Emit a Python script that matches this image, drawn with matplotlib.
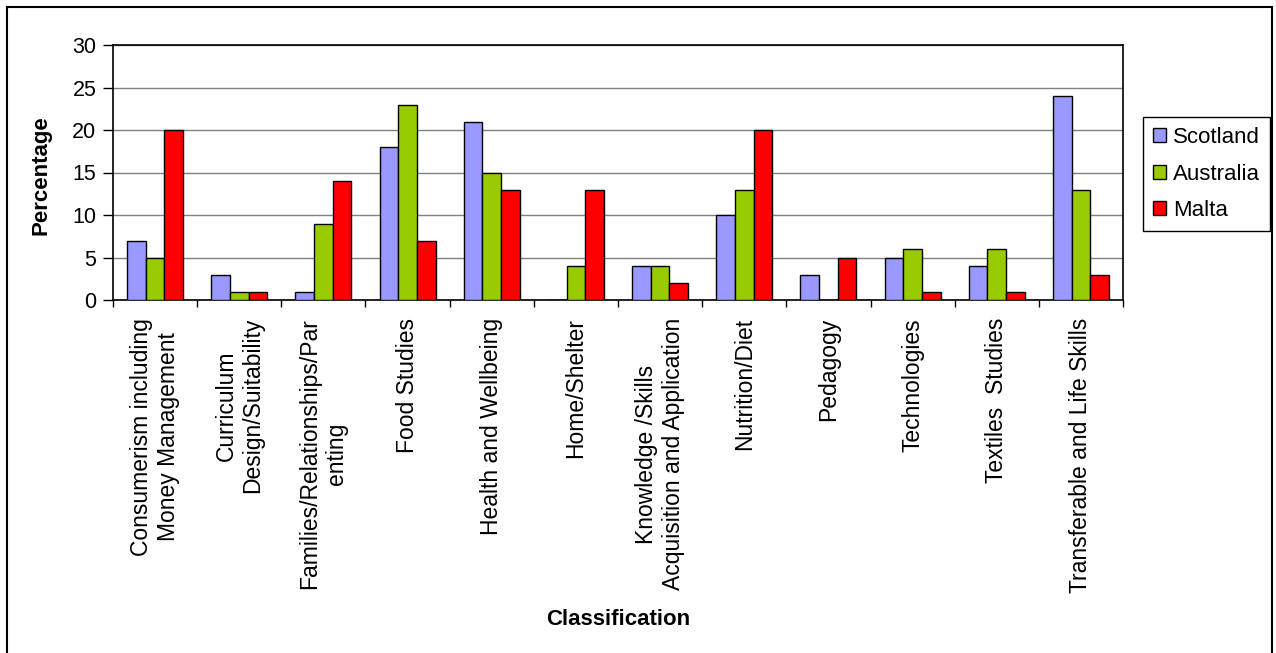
import numpy as np
import matplotlib
matplotlib.use("Agg")
from matplotlib import pyplot as plt
from matplotlib.patches import Rectangle

plt.rcParams['font.family'] = ['Liberation Sans', 'DejaVu Sans']

categories = [
    "Consumerism including\nMoney Management",
    "Curriculum\nDesign/Suitability",
    "Families/Relationships/Par\nenting",
    "Food Studies",
    "Health and Wellbeing",
    "Home/Shelter",
    "Knowledge /Skills\nAcquisition and Application",
    "Nutrition/Diet",
    "Pedagogy",
    "Technologies",
    "Textiles  Studies",
    "Transferable and Life Skills",
]
scotland = [7, 3, 1, 18, 21, 0, 4, 10, 3, 5, 4, 24]
australia = [5, 1, 9, 23, 15, 4, 4, 13, 0, 6, 6, 13]
malta = [20, 1, 14, 7, 13, 13, 2, 20, 5, 1, 1, 3]
series_names = ["Scotland", "Australia", "Malta"]
colors = ["#9999FF", "#99CC00", "#FF0000"]

fig = plt.figure(figsize=(12.76, 6.53), dpi=100)
ax = fig.add_axes([113 / 1276, 1 - 300 / 653, 1010 / 1276, 255 / 653])

x = np.arange(len(categories))
w = 1 / 4.5
for i, (vals, name, c) in enumerate(zip([scotland, australia, malta], series_names, colors)):
    ax.bar(x + (i - 1) * w, vals, w, color=c, edgecolor="black", linewidth=1.0,
           label=name, zorder=3)

ax.set_xlim(-0.5, len(categories) - 0.5)
ax.set_ylim(0, 30)
ax.set_yticks(range(0, 31, 5))
ax.yaxis.grid(True, color="#808080", linewidth=1.0, zorder=0)
ax.set_axisbelow(True)

# ticks between categories, labels at centres
ax.set_xticks(np.arange(len(categories) + 1) - 0.5)
ax.set_xticklabels([])
ax.set_xticks(x, minor=True)
ax.set_xticklabels(categories, minor=True, rotation=90, ha="center", va="top",
                   multialignment="center", fontsize=16.5, linespacing=1.2)
ax.tick_params(axis="x", which="major", length=5, width=1, color="black", direction="out")
ax.tick_params(axis="x", which="minor", length=0, pad=13)
ax.tick_params(axis="y", length=7, width=1, pad=5, labelsize=15.5, direction="out")

for s in ax.spines.values():
    s.set_color("black")
    s.set_linewidth(1.2)

ax.set_ylabel("Percentage", fontsize=16, fontweight="bold")
ax.yaxis.set_label_coords(-0.0604, 0.49)
ax.set_xlabel("Classification", fontsize=16, fontweight="bold", va="center")
ax.xaxis.set_label_coords(0.5, -1.252)

leg = ax.legend(loc="upper left", bbox_to_anchor=(1143 / 1276, 1 - 117 / 653),
                bbox_transform=fig.transFigure, fontsize=16, fancybox=False,
                edgecolor="black", framealpha=1, borderpad=0.45, labelspacing=0.7,
                handlelength=0.6, handleheight=0.6, handletextpad=0.3, borderaxespad=0)
leg.get_frame().set_linewidth(1.0)

# outer chart border
fig.patches.append(Rectangle((7 / 1276, -0.02), 1265 / 1276, 1 - 7 / 653 + 0.02,
                             transform=fig.transFigure, fill=False,
                             edgecolor="black", linewidth=1.5))

fig.savefig("out.png", dpi=100)
